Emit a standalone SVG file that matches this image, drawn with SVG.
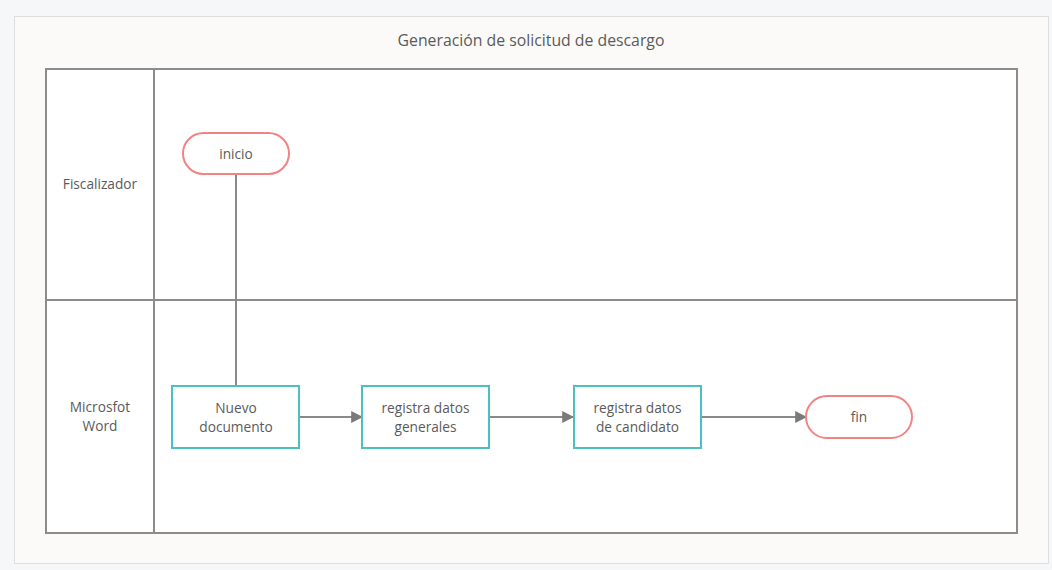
<svg xmlns="http://www.w3.org/2000/svg" width="1052" height="570" viewBox="0 0 1052 570">
<defs>
<style>
.t{font-family:"Open Sans","Noto Sans",sans-serif;font-size:13.7px;fill:#5a5a5a;text-anchor:middle}
.proc{fill:#fff;stroke:#4cbfbf;stroke-width:2}
.term{fill:#fff;stroke:#f28383;stroke-width:2}
.lane{fill:none;stroke:#8c8c8c;stroke-width:2}
.conn{fill:none;stroke:#8a8a8a;stroke-width:2}
</style>
<marker id="arr" viewBox="0 0 10 10" refX="9" refY="5" markerWidth="12" markerHeight="12" markerUnits="userSpaceOnUse" orient="auto">
<path d="M0,0 L10,5 L0,10 z" fill="#7a7a7a"/>
</marker>
</defs>
<rect x="0" y="0" width="1052" height="570" fill="#f6f7f9"/>
<rect x="14.5" y="16.5" width="1034" height="547" fill="#fbfaf8" stroke="#dedede" stroke-width="1"/>
<g id="pool">
<rect x="46" y="69" width="971" height="464" class="lane" style="fill:#fff"/>
<line x1="154" y1="69" x2="154" y2="533" class="lane"/>
<line x1="46" y1="300" x2="1017" y2="300" class="lane"/>
<text x="531" y="46" class="t" style="font-size:15.8px">Generación de solicitud de descargo</text>
</g>
<g id="lane-fiscalizador">
<text x="100" y="189" class="t">Fiscalizador</text>
</g>
<g id="lane-word">
<text x="100" y="412" class="t">Microsfot</text>
<text x="100" y="431" class="t">Word</text>
</g>
<g id="connectors">
<line x1="236" y1="174" x2="236" y2="386" class="conn"/>
<line x1="299" y1="417" x2="362" y2="417" class="conn" marker-end="url(#arr)"/>
<line x1="489" y1="417" x2="573" y2="417" class="conn" marker-end="url(#arr)"/>
<line x1="701" y1="417" x2="806" y2="417" class="conn" marker-end="url(#arr)"/>
</g>
<g id="inicio">
<rect x="183" y="133" width="106" height="41" rx="20.5" class="term"/>
<text x="236" y="158.5" class="t">inicio</text>
</g>
<g id="nuevo-documento">
<rect x="172" y="386" width="127" height="62" class="proc"/>
<text x="236" y="413" class="t">Nuevo</text>
<text x="236" y="432" class="t">documento</text>
</g>
<g id="registra-generales">
<rect x="362" y="386" width="127" height="62" class="proc"/>
<text x="425.5" y="413" class="t">registra datos</text>
<text x="425.5" y="432" class="t">generales</text>
</g>
<g id="registra-candidato">
<rect x="574" y="386" width="127" height="62" class="proc"/>
<text x="637.5" y="413" class="t">registra datos</text>
<text x="637.5" y="432" class="t">de candidato</text>
</g>
<g id="fin">
<rect x="806" y="396" width="106" height="42" rx="21" class="term"/>
<text x="859" y="421.5" class="t">fin</text>
</g>
</svg>
